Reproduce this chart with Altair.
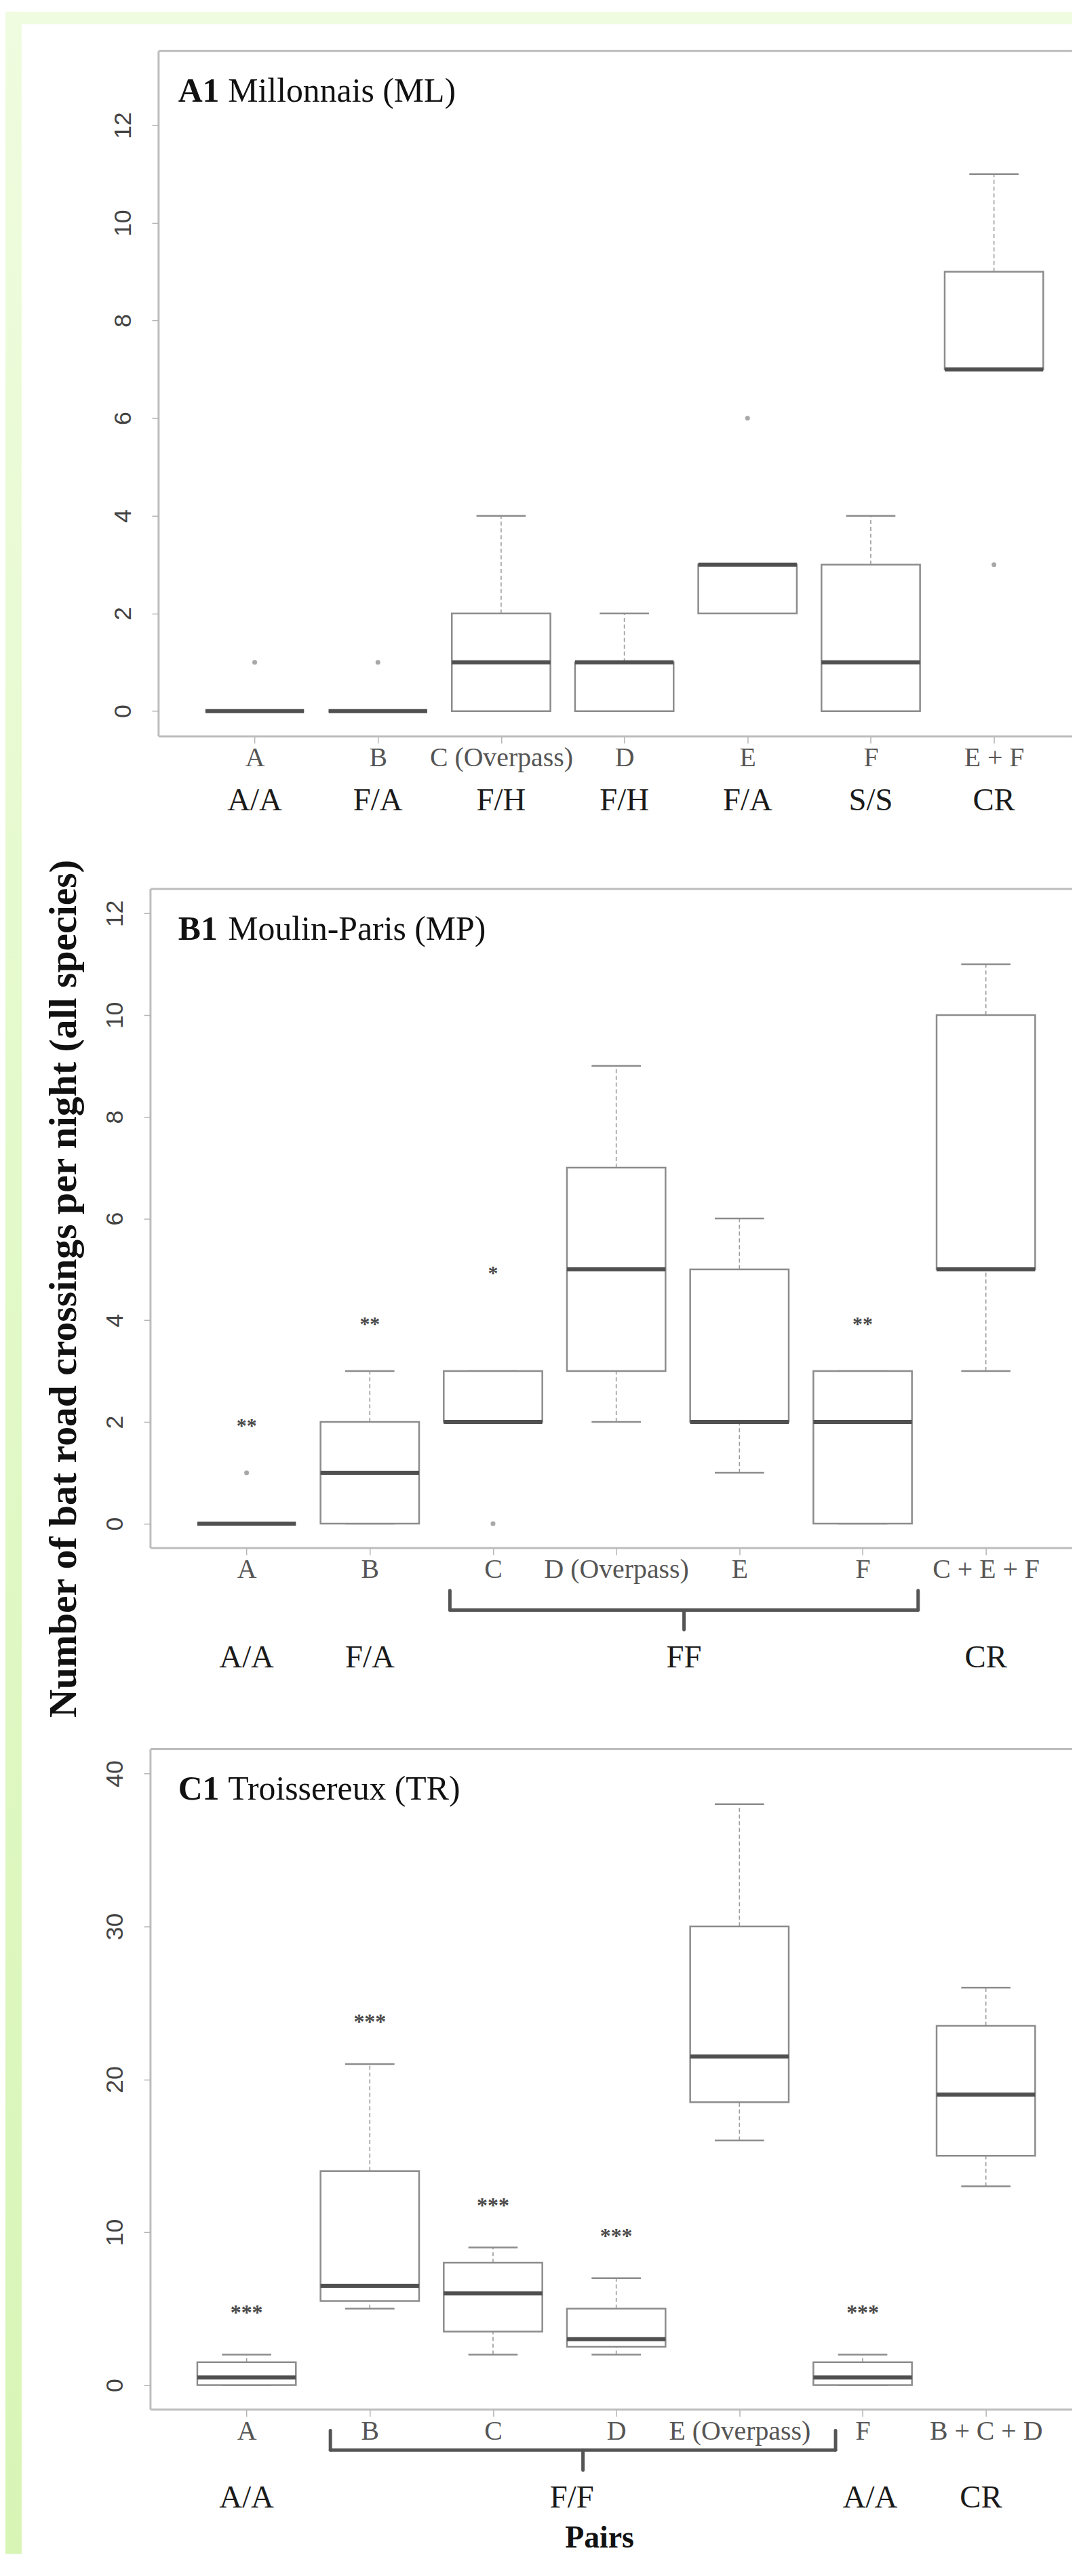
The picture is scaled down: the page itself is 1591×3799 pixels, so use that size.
import altair as alt
import pandas as pd

# ---------------- data ----------------
# Panel A1 Millonnais (ML)
A_CATS = ["A", "B", "C (Overpass)", "D", "E", "F", "E + F"]
A_LO = [0, 0, 0, 0, 2, 0, 7]
A_Q1 = [0, 0, 0, 0, 2, 0, 7]
A_MED = [0, 0, 1, 1, 3, 1, 7]
A_Q3 = [0, 0, 2, 1, 3, 3, 9]
A_HI = [0, 0, 4, 2, 3, 4, 11]
A_OUT_POS = [1, 2, 5, 7]
A_OUT_VAL = [1, 1, 6, 3]
A_SIG_POS = []
A_SIG_VAL = []
A_SIG_TXT = []
A_PAIR_LAB = ["A/A", "F/A", "F/H", "F/H", "F/A", "S/S", "CR"]
A_PAIR_POS = [1, 2, 3, 4, 5, 6, 7]

# Panel B1 Moulin-Paris (MP)
B_CATS = ["A", "B", "C", "D (Overpass)", "E", "F", "C + E + F"]
B_LO = [0, 0, 2, 2, 1, 0, 3]
B_Q1 = [0, 0, 2, 3, 2, 0, 5]
B_MED = [0, 1, 2, 5, 2, 2, 5]
B_Q3 = [0, 2, 3, 7, 5, 3, 10]
B_HI = [0, 3, 3, 9, 6, 3, 11]
B_OUT_POS = [1, 3]
B_OUT_VAL = [1, 0]
B_SIG_POS = [1, 2, 3, 6]
B_SIG_VAL = [2, 4, 5, 4]
B_SIG_TXT = ["**", "**", "*", "**"]
B_PAIR_LAB = ["A/A", "F/A", "FF", "CR"]
B_PAIR_POS = [1, 2, 4.55, 7]
B_BRACE_FROM = [2.65]
B_BRACE_TO = [6.45]

# Panel C1 Troissereux (TR)
C_CATS = ["A", "B", "C", "D", "E (Overpass)", "F", "B + C + D"]
C_LO = [0, 5, 2, 2, 16, 0, 13]
C_Q1 = [0, 5.5, 3.5, 2.5, 18.5, 0, 15]
C_MED = [0.5, 6.5, 6, 3, 21.5, 0.5, 19]
C_Q3 = [1.5, 14, 8, 5, 30, 1.5, 23.5]
C_HI = [2, 21, 9, 7, 38, 2, 26]
C_OUT_POS = []
C_OUT_VAL = []
C_SIG_POS = [1, 2, 3, 4, 6]
C_SIG_VAL = [5, 24, 12, 10, 5]
C_SIG_TXT = ["***", "***", "***", "***", "***"]
C_PAIR_LAB = ["A/A", "F/F", "A/A", "CR"]
C_PAIR_POS = [1, 3.64, 6.06, 6.96]
C_BRACE_FROM = [1.68]
C_BRACE_TO = [5.78]

Y_TITLE = "Number of bat road crossings per night (all species)"
X_TITLE = "Pairs"

# ---------------- layout / style ----------------
SERIF = "Liberation Serif"
SANS = "Liberation Sans"
W = 1366          # plot width (px)
PPU = 182.6       # px per category unit
FRAME = "#bdbdbd"
BOXC = "#8c8c8c"
BG_BOTTOM = 3710  # bottom of the page decoration, relative to panel A top


def panel(tag, name, cats, lo, q1, med, q3, hi, out_pos, out_val,
          sig_pos, sig_val, sig_txt, sig_size, pair_lab, pair_pos,
          brace_from, brace_to, yticks, ydom, height, shift, row_y,
          brace_y=None, ytitle=None, xtitle=None, background=False):
    n = len(cats)
    pos = list(range(1, n + 1))
    box = pd.DataFrame(dict(pos=pos, lo=lo, q1=q1, med=med, q3=q3, hi=hi))
    left = 0.22 - shift / PPU
    xs = alt.Scale(domain=[left, left + W / PPU], nice=False, zero=False)
    ys = alt.Scale(domain=ydom, nice=False, zero=False)
    label_expr = "[" + ",".join("'%s'" % c for c in cats) + "][datum.value - 1]"

    xkw = dict(values=pos, labelExpr=label_expr, grid=False, domain=False,
               tickSize=10, tickWidth=1.5, tickColor="#b5b5b5",
               labelFont=SERIF, labelFontSize=40, labelColor="#555555",
               labelPadding=2, labelFlush=False, labelOverlap=False,
               labelLimit=1000, zindex=1)
    if xtitle:
        xkw.update(title=xtitle, titleFont=SERIF, titleFontSize=46,
                   titleFontWeight="bold", titleColor="#111111",
                   titleX=665, titleY=190, titleAlign="center",
                   titleBaseline="middle")
    else:
        xkw.update(title="")
    xaxis = alt.Axis(**xkw)

    ykw = dict(values=yticks, grid=False, domain=False, tickSize=10,
               tickWidth=1.5, tickColor="#b5b5b5", labelAngle=270,
               labelAlign="center", labelBaseline="bottom", labelFont=SANS,
               labelFontSize=36, labelColor="#444444", labelPadding=24,
               labelFlush=False, labelOverlap=False, offset=-shift, zindex=1)
    if ytitle:
        ykw.update(title=ytitle, titleFont=SERIF, titleFontSize=58,
                   titleFontWeight="bold", titleColor="#111111",
                   titleAngle=270, titleX=-128, titleY=592,
                   titleAlign="center", titleBaseline="middle",
                   titleLimit=3000)
    else:
        ykw.update(title="")
    yaxis = alt.Axis(**ykw)

    def ex(f):
        return alt.X(f, type="quantitative", scale=xs, axis=xaxis)

    def ey(f):
        return alt.Y(f, type="quantitative", scale=ys, axis=yaxis)

    one = pd.DataFrame({"k": [0]})
    layers = []
    if background:
        # green page border: left strip (vertical gradient) and top strip
        layers.append(alt.Chart(one).mark_rect(
            fill=alt.LinearGradient(
                gradient="linear",
                stops=[alt.GradientStop(color="#effcdf", offset=0),
                       alt.GradientStop(color="#e2f9c8", offset=0.5),
                       alt.GradientStop(color="#d8f5b6", offset=1)],
                x1=0, x2=0, y1=0, y2=1)).encode(
            x=alt.value(-215), x2=alt.value(-191),
            y=alt.value(-58), y2=alt.value(BG_BOTTOM)))
        layers.append(alt.Chart(one).mark_rect(fill="#effcdf").encode(
            x=alt.value(-215), x2=alt.value(W),
            y=alt.value(-58), y2=alt.value(-40)))

    base = alt.Chart(box).transform_calculate(
        x1="datum.pos - 0.4", x2="datum.pos + 0.4",
        s1="datum.pos - 0.2", s2="datum.pos + 0.2")

    layers += [
        base.mark_rule(color="#9c9c9c", strokeWidth=1.6, strokeDash=[6, 4]).encode(
            x=ex("pos"), y=ey("q3"), y2=alt.Y2("hi")),
        base.mark_rule(color="#9c9c9c", strokeWidth=1.6, strokeDash=[6, 4]).encode(
            x=ex("pos"), y=ey("lo"), y2=alt.Y2("q1")),
        base.mark_rule(color=BOXC, strokeWidth=2.5).encode(
            x=ex("s1"), x2=alt.X2("s2"), y=ey("hi")),
        base.mark_rule(color=BOXC, strokeWidth=2.5).encode(
            x=ex("s1"), x2=alt.X2("s2"), y=ey("lo")),
        base.mark_rect(fill="white", stroke=BOXC, strokeWidth=2.5).encode(
            x=ex("x1"), x2=alt.X2("x2"), y=ey("q1"), y2=alt.Y2("q3")),
        base.mark_rule(color="#505050", strokeWidth=6).encode(
            x=ex("x1"), x2=alt.X2("x2"), y=ey("med")),
    ]
    if out_pos:
        layers.append(alt.Chart(pd.DataFrame(dict(pos=out_pos, val=out_val)))
                      .mark_circle(color="#a8a8a8", size=50, opacity=1)
                      .encode(x=ex("pos"), y=ey("val")))
    if sig_pos:
        layers.append(alt.Chart(pd.DataFrame(dict(pos=sig_pos, val=sig_val, txt=sig_txt)))
                      .mark_text(font=SERIF, fontSize=sig_size, fontWeight="bold",
                                 color="#4a4a4a", align="center",
                                 baseline="alphabetic", dy=sig_size * 0.5)
                      .encode(x=ex("pos"), y=ey("val"), text="txt:N"))

    # panel label
    layers.append(alt.Chart(pd.DataFrame({"t": [tag]})).mark_text(
        font=SERIF, fontSize=50, fontWeight="bold", color="#111111",
        align="left", baseline="middle").encode(
        x=alt.value(41), y=alt.value(60), text="t:N"))
    layers.append(alt.Chart(pd.DataFrame({"t": [name]})).mark_text(
        font=SERIF, fontSize=50, color="#111111",
        align="left", baseline="middle").encode(
        x=alt.value(115), y=alt.value(60), text="t:N"))

    # frame (top, bottom, left; right side lies beyond the picture)
    layers.append(alt.Chart(one).mark_rule(color=FRAME, strokeWidth=3).encode(
        x=alt.value(shift), x2=alt.value(W), y=alt.value(0)))
    layers.append(alt.Chart(one).mark_rule(color=FRAME, strokeWidth=3).encode(
        x=alt.value(shift), x2=alt.value(W), y=alt.value(height)))
    layers.append(alt.Chart(one).mark_rule(color=FRAME, strokeWidth=3).encode(
        x=alt.value(shift), y=alt.value(0), y2=alt.value(height)))

    # pair-type labels
    layers.append(alt.Chart(pd.DataFrame(dict(pos=pair_pos, lab=pair_lab)))
                  .mark_text(font=SERIF, fontSize=47, color="#1a1a1a",
                             align="center", baseline="middle")
                  .encode(x=ex("pos"), y=alt.value(row_y), text="lab:N"))

    # brace grouping
    if brace_from:
        bdf = pd.DataFrame(dict(b1=brace_from, b2=brace_to))
        bb = alt.Chart(bdf).transform_calculate(bc="(datum.b1 + datum.b2) / 2")
        top, bar, bot = brace_y
        st = dict(color="#555555", strokeWidth=5, strokeCap="round")
        layers += [
            bb.mark_rule(**st).encode(x=ex("b1"), x2=alt.X2("b2"), y=alt.value(bar)),
            bb.mark_rule(**st).encode(x=ex("b1"), y=alt.value(top), y2=alt.value(bar)),
            bb.mark_rule(**st).encode(x=ex("b2"), y=alt.value(top), y2=alt.value(bar)),
            bb.mark_rule(**st).encode(x=ex("bc"), y=alt.value(bar), y2=alt.value(bot)),
        ]

    return alt.layer(*layers).properties(width=W, height=height)


def spacer(h):
    return alt.Chart(pd.DataFrame({"k": [0]})).mark_point(opacity=0).encode(
        x=alt.value(0), y=alt.value(0)).properties(width=W, height=h)


pA = panel("A1", "Millonnais (ML)", A_CATS, A_LO, A_Q1, A_MED, A_Q3, A_HI,
           A_OUT_POS, A_OUT_VAL, A_SIG_POS, A_SIG_VAL, A_SIG_TXT, 30,
           A_PAIR_LAB, A_PAIR_POS, [], [], list(range(0, 13, 2)),
           [-0.52, 13.52], 1016, 12, 1111, background=True)
pB = panel("B1", "Moulin-Paris (MP)", B_CATS, B_LO, B_Q1, B_MED, B_Q3, B_HI,
           B_OUT_POS, B_OUT_VAL, B_SIG_POS, B_SIG_VAL, B_SIG_TXT, 30,
           B_PAIR_LAB, B_PAIR_POS, B_BRACE_FROM, B_BRACE_TO,
           list(range(0, 13, 2)), [-0.48, 12.48], 977, 0, 1140,
           brace_y=(1040, 1069, 1098), ytitle=Y_TITLE)
pC = panel("C1", "Troissereux (TR)", C_CATS, C_LO, C_Q1, C_MED, C_Q3, C_HI,
           C_OUT_POS, C_OUT_VAL, C_SIG_POS, C_SIG_VAL, C_SIG_TXT, 32,
           C_PAIR_LAB, C_PAIR_POS, C_BRACE_FROM, C_BRACE_TO,
           list(range(0, 41, 10)), [-1.6, 41.6], 979, 0, 1110,
           brace_y=(1010, 1039, 1069), xtitle=X_TITLE)

chart = alt.vconcat(pA, spacer(226), pB, spacer(298), pC,
                    spacing=0, bounds="flush").properties(
    padding={"left": 0, "top": 0, "right": 0, "bottom": 0}
).configure_view(strokeOpacity=0)

chart.save("out.html", embed_options={"renderer": "svg", "actions": False})
